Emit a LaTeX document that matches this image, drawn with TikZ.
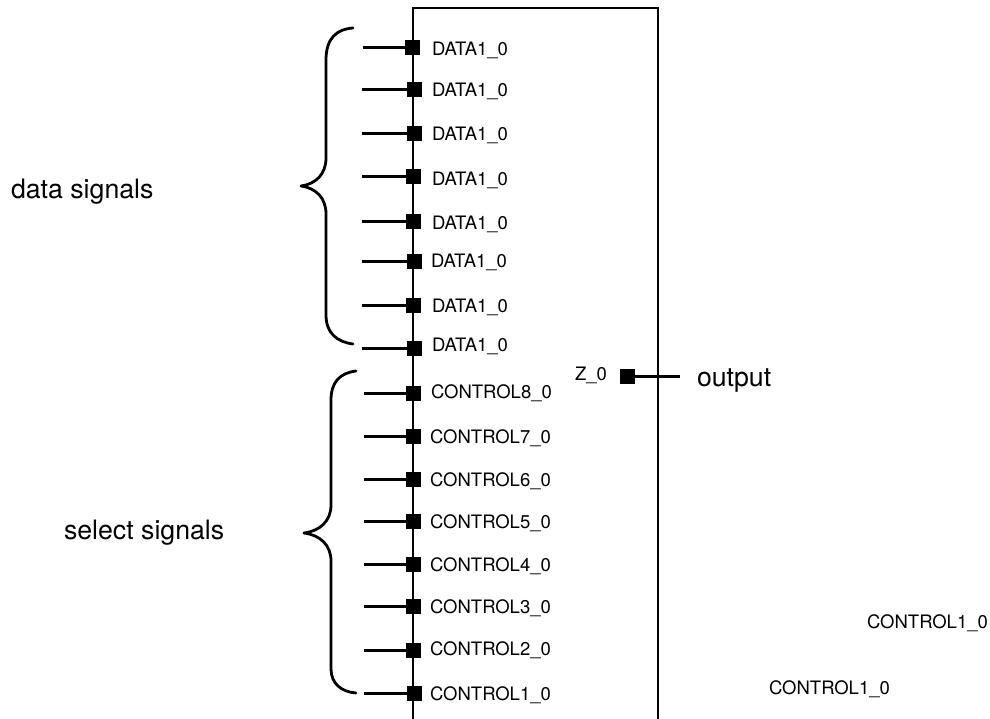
\documentclass[tikz,border=0pt]{standalone}
\usepackage{fontspec}
\setmainfont{TeX Gyre Heros}
\tikzset{
  pin/.style={draw=none,fill=black,minimum size=15pt,inner sep=0pt,outer sep=0pt},
  wire/.style={line width=3pt},
  boxline/.style={line width=1.8pt},
  brace/.style={line width=2.8pt,line cap=round,line join=round},
  sig/.style={anchor=base west,inner sep=0pt,outer sep=0pt,font=\fontsize{18.5pt}{20pt}\selectfont},
  big/.style={anchor=base west,inner sep=0pt,outer sep=0pt,font=\fontsize{26.7pt}{29pt}\selectfont}
}
\begin{document}
\begin{tikzpicture}[x=1pt,y=-1pt]
\useasboundingbox (0,0) rectangle (990,719);
\coordinate (bl) at (413,719);
\coordinate (tl) at (413,8);
\coordinate (tr) at (658,8);
\coordinate (br) at (658,719);
\draw[boxline] (bl) -- (tl) -- (tr) -- (br);
% data rows
\foreach \n/\px/\y/\sx/\tx/\ty in {
 d1/412.5/48/363/432/56,
 d2/414/90/362/432/97,
 d3/414/133.5/362/432/141,
 d4/413.5/177/362/432/186,
 d5/413.5/222/362/432/230,
 d6/414/262/362/431/268,
 d7/413.5/305/362/432/312.5,
 d8/414/348.5/362/432/351.5}{
  \node[pin] (\n) at (\px,\y) {};
  \coordinate (\n s) at (\sx,\y);
  \draw[wire] (\n s) -- (\n);
  \node[sig] (\n t) at (\tx,\ty) {DATA1\_0};
}
% control rows
\foreach \n/\k/\px/\y/\tx/\ty in {
 c8/8/413/393/431/398.5,
 c7/7/413/436/430/443,
 c6/6/413/479/430/486,
 c5/5/413/521/430/528,
 c4/4/413/564/430/571,
 c3/3/413/606/430/613,
 c2/2/413/650.5/430/655.5,
 c1/1/414/693/430/700}{
  \node[pin] (\n) at (\px,\y) {};
  \coordinate (\n s) at (364,\y);
  \draw[wire] (\n s) -- (\n);
  \node[sig] (\n t) at (\tx,\ty) {CONTROL\k\_0};
}
% output
\node[pin] (z) at (627,376.5) {};
\coordinate (ze) at (680,376.5);
\draw[wire] (z) -- (ze);
\node[sig] (zt) at (575,380) {Z\_0};
\node[big] (out) at (697,386) {output};
% braces
\draw[brace] (353,28) .. controls (337,29) and (326,38) .. (326,60)
  -- (326,158) .. controls (326,174) and (316,184) .. (301,186)
  .. controls (316,188) and (326,198) .. (326,214)
  -- (326,315) .. controls (326,333) and (337,342) .. (353,344);
\draw[brace] (356,371) .. controls (340,373) and (331,382) .. (331,400)
  -- (331,505) .. controls (331,521) and (320,531) .. (304,533)
  .. controls (320,535) and (331,545) .. (331,561)
  -- (331,669) .. controls (331,683) and (341,692) .. (356,693);
\node[big] (ds) at (11,199) {data signals};
\node[big] (ss) at (64,539) {select signals};
\node[sig] (x1) at (867,628) {CONTROL1\_0};
\node[sig] (x2) at (769,694) {CONTROL1\_0};
\end{tikzpicture}
\end{document}
